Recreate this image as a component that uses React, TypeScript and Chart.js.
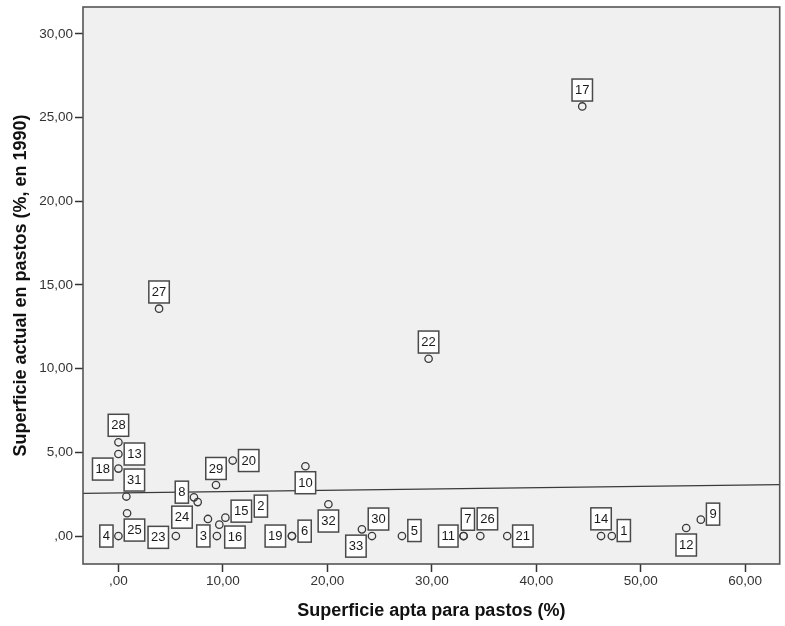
import React, { useEffect, useRef } from 'react';
import { Chart, registerables } from 'chart.js';

Chart.register(...registerables);

// Case numbers shown in the point labels
const caseIds = [
  1, 2, 3, 4, 5, 6, 7, 8, 9, 10, 11, 12, 13, 14, 15, 16, 17,
  18, 19, 20, 21, 22, 23, 24, 25, 26, 27, 28, 29, 30, 31, 32, 33,
];
// Superficie apta para pastos (%)
const aptaPastos = [
  47.23, 10.24, 8.57, 0.0, 27.14, 16.61, 33.04, 7.23, 55.75, 17.9, 33.04, 54.35, 0.0, 46.2, 9.66, 9.43, 44.4,
  0.0, 16.61, 10.94, 37.22, 29.69, 5.5, 7.59, 0.83, 34.64, 3.89, 0.0, 9.34, 24.27, 0.76, 20.1, 23.31,
];
// Superficie actual en pastos (%, en 1990)
const actualPastos = [
  0.0, 1.1, 1.02, 0.0, 0.0, 0.0, 0.0, 2.31, 0.98, 4.17, 0.0, 0.48, 4.9, 0.0, 0.68, 0.0, 25.66,
  4.03, 0.0, 4.51, 0.0, 10.59, 0.0, 2.03, 1.36, 0.0, 13.58, 5.6, 3.05, 0.0, 2.36, 1.9, 0.4,
];
// Fit line (read at the two ends of the x axis)
const fitLineX = [-3.39, 63.3];
const fitLineY = [2.55, 3.07];

const xTicks = [0, 10, 20, 30, 40, 50, 60];
const xTickLabels = [',00', '10,00', '20,00', '30,00', '40,00', '50,00', '60,00'];
const yTicks = [0, 5, 10, 15, 20, 25, 30];
const yTickLabels = [',00', '5,00', '10,00', '15,00', '20,00', '25,00', '30,00'];

const xTitle = 'Superficie apta para pastos (%)';
const yTitle = 'Superficie actual en pastos (%, en 1990)';

// label box placement relative to its point (pixels) – styling, not data
const labelOffsets: [number, number][] = [
  [12, -5.5], [35.5, -11.5], [-4.6, 17], [-12, 0], [12.5, -5.5], [12.7, -4.9], [4.3, -16.8],
  [-12.1, -5.2], [12.2, -5.5], [0, 16.5], [-15.3, 0], [0, 17], [16, 0], [0, -17.2], [22, -13.5],
  [18, 1], [0, -16.4], [-15.7, 0.5], [-16.6, 0], [16, 0], [15.6, 0], [0, -16.7], [-17.6, 1.3],
  [-15.7, 15.1], [7.4, 16.8], [7.1, -17.2], [0, -16.7], [0, -17], [0, -16.5], [6.5, -17],
  [8, -16.5], [0, 16.8], [-6, 16.8],
];

const FONT = 'Arial, "Liberation Sans", sans-serif';

const framePlugin = {
  id: 'plotFrame',
  beforeDraw(chart: any) {
    const { ctx, chartArea: a } = chart;
    ctx.save();
    ctx.fillStyle = '#f0f0f0';
    ctx.fillRect(a.left, a.top, a.right - a.left, a.bottom - a.top);
    ctx.restore();
  },
  afterDatasetsDraw(chart: any) {
    const { ctx } = chart;
    const xs = chart.scales.x;
    const ys = chart.scales.y;
    ctx.save();
    ctx.font = `13px ${FONT}`;
    ctx.textAlign = 'center';
    ctx.textBaseline = 'middle';
    caseIds.forEach((id, i) => {
      const [dx, dy] = labelOffsets[i];
      const cx = xs.getPixelForValue(aptaPastos[i]) + dx;
      const cy = ys.getPixelForValue(actualPastos[i]) + dy;
      const text = String(id);
      const w = ctx.measureText(text).width + 6;
      const h = 22;
      ctx.fillStyle = '#ffffff';
      ctx.fillRect(cx - w / 2, cy - h / 2, w, h);
      ctx.strokeStyle = '#4a4a4a';
      ctx.lineWidth = 1.5;
      ctx.strokeRect(cx - w / 2, cy - h / 2, w, h);
      ctx.fillStyle = '#1a1a1a';
      ctx.fillText(text, cx, cy + 0.5);
    });
    ctx.restore();
  },
  afterDraw(chart: any) {
    const { ctx, chartArea: a } = chart;
    ctx.save();
    ctx.strokeStyle = '#555555';
    ctx.lineWidth = 1.6;
    ctx.strokeRect(a.left, a.top, a.right - a.left, a.bottom - a.top);
    ctx.restore();
  },
};

export default function App() {
  const canvasRef = useRef<HTMLCanvasElement | null>(null);

  useEffect(() => {
    document.body.style.margin = '0';
    const canvas = canvasRef.current;
    if (!canvas) return;
    const chart = new Chart(canvas, {
      type: 'scatter',
      data: {
        datasets: [
          {
            type: 'line',
            data: fitLineX.map((x, i) => ({ x, y: fitLineY[i] })),
            borderColor: '#3a3a3a',
            borderWidth: 1.2,
            pointRadius: 0,
            fill: false,
          } as any,
          {
            data: aptaPastos.map((x, i) => ({ x, y: actualPastos[i] })),
            pointRadius: 3.7,
            pointBorderWidth: 1.3,
            pointBorderColor: '#3a3a3a',
            pointBackgroundColor: 'rgba(0,0,0,0)',
            showLine: false,
          },
        ],
      },
      options: {
        animation: false,
        responsive: false,
        devicePixelRatio: 1,
        layout: { padding: { top: 7, right: 4.3, left: 0, bottom: 0 } },
        plugins: {
          legend: { display: false },
          tooltip: { enabled: false },
        },
        scales: {
          x: {
            type: 'linear',
            min: -3.39,
            max: 63.3,
            afterBuildTicks: (scale: any) => {
              scale.ticks = xTicks.map((v) => ({ value: v }));
            },
            afterFit: (scale: any) => {
              scale.height = 62;
              scale.paddingLeft = 0;
              scale.paddingRight = 0;
            },
            ticks: {
              callback: (v: any) => xTickLabels[xTicks.indexOf(Number(v))],
              font: { family: FONT, size: 13.5 },
              color: '#333333',
              padding: 1,
              maxRotation: 0,
            },
            grid: {
              drawOnChartArea: false,
              drawTicks: true,
              tickLength: 8,
              tickColor: '#333333',
              tickWidth: 1.5,
            },
            border: { display: false },
            title: {
              display: true,
              text: xTitle,
              font: { family: FONT, size: 18, weight: 'bold' },
              color: '#111111',
              padding: { top: 0, bottom: 4 },
            },
          },
          y: {
            type: 'linear',
            min: -1.67,
            max: 31.6,
            afterBuildTicks: (scale: any) => {
              scale.ticks = yTicks.map((v) => ({ value: v }));
            },
            afterFit: (scale: any) => {
              scale.width = 83;
              scale.paddingTop = 0;
              scale.paddingBottom = 0;
            },
            ticks: {
              callback: (v: any) => yTickLabels[yTicks.indexOf(Number(v))],
              font: { family: FONT, size: 13.5 },
              color: '#333333',
              padding: 2,
            },
            grid: {
              drawOnChartArea: false,
              drawTicks: true,
              tickLength: 8,
              tickColor: '#333333',
              tickWidth: 1.5,
            },
            border: { display: false },
            title: {
              display: true,
              text: yTitle,
              font: { family: FONT, size: 18, weight: 'bold' },
              color: '#111111',
              padding: { top: 10, bottom: 0 },
            },
          },
        },
      } as any,
      plugins: [framePlugin],
    });
    return () => chart.destroy();
  }, []);

  return (
    <div style={{ width: 785, height: 626, background: '#ffffff' }}>
      <canvas ref={canvasRef} width={785} height={626} style={{ width: 785, height: 626, display: 'block' }} />
    </div>
  );
}
